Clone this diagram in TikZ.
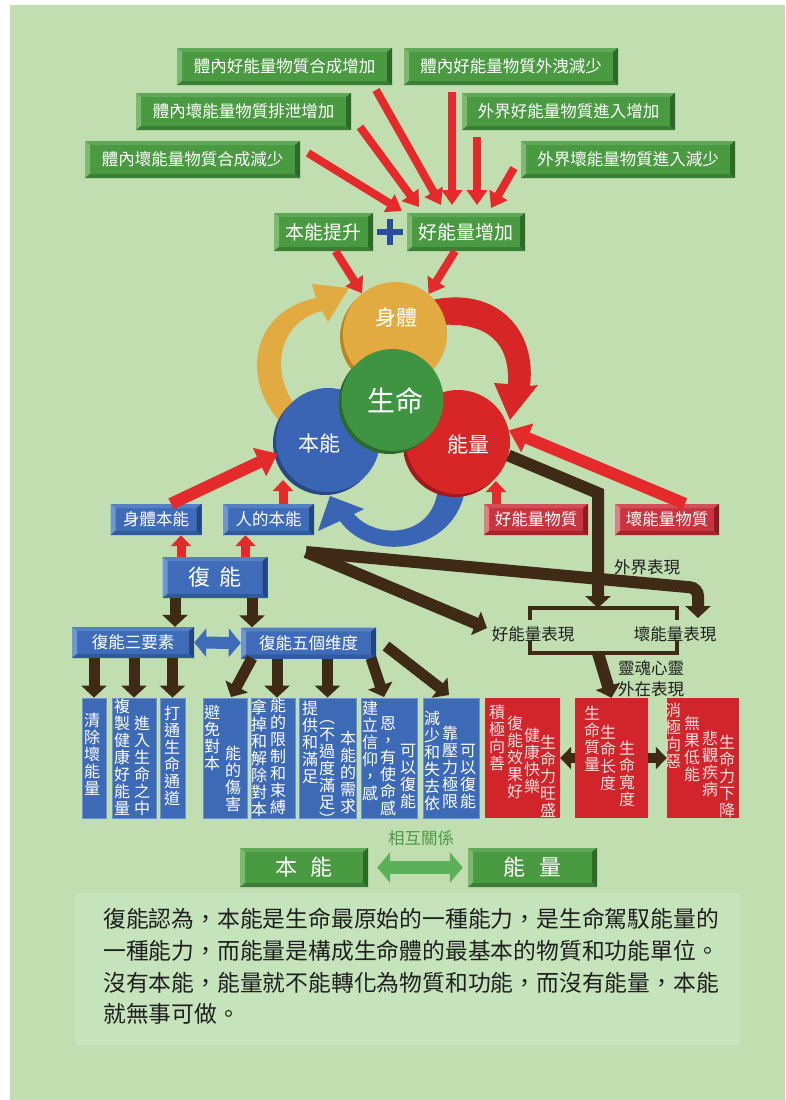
\documentclass[tikz,border=0pt]{standalone}
\usepackage{fontspec}
\setmainfont{Noto Sans CJK TC}
\usetikzlibrary{arrows.meta,shadows}
\definecolor{bg}{HTML}{C0DEB0}
\definecolor{boxbg}{HTML}{C6E4BC}
\definecolor{gB}{HTML}{4A9A42}\definecolor{gT}{HTML}{5EA955}\definecolor{gL}{HTML}{7DBA6F}\definecolor{gR}{HTML}{2D6A28}\definecolor{gD}{HTML}{3B7E35}
\definecolor{bB}{HTML}{3E6CB9}\definecolor{bT}{HTML}{5580C4}\definecolor{bL}{HTML}{7096D2}\definecolor{bR}{HTML}{24467F}\definecolor{bD}{HTML}{2F5A9C}
\definecolor{rB}{HTML}{C9343F}\definecolor{rT}{HTML}{D24E58}\definecolor{rL}{HTML}{E07C84}\definecolor{rR}{HTML}{8C1B23}\definecolor{rD}{HTML}{A3242D}
\definecolor{arred}{HTML}{E52A2C}
\definecolor{brn}{HTML}{3E2A15}
\definecolor{corange}{HTML}{E2AB42}\definecolor{corangeS}{HTML}{B98526}
\definecolor{cgreen}{HTML}{3F9442}\definecolor{cgreenS}{HTML}{2A6A2D}
\definecolor{cblue}{HTML}{3A64B4}\definecolor{cblueS}{HTML}{284882}
\definecolor{cred}{HTML}{D82526}\definecolor{credS}{HTML}{A01A1B}
\definecolor{colblue}{HTML}{3D6AB6}\definecolor{colblueL}{HTML}{6D93CF}
\definecolor{colred}{HTML}{D1242B}
\definecolor{redtext}{HTML}{F8DEDE}
\definecolor{plusblue}{HTML}{2C4C9E}
\definecolor{dgreen}{HTML}{5DB05A}
\definecolor{labgreen}{HTML}{4A9C47}
\definecolor{txt}{HTML}{1F1F1F}
\newcommand\fsz[1]{\fontsize{#1}{#1}\selectfont}
\makeatletter
\newcommand\vstack[1]{\vbox{\offinterlineskip\@tfor\vs@c:=#1\do{\hbox to 17pt{\hss\vs@c\hss\vrule height 13.6pt depth 3.4pt width 0pt}}}}
\makeatother
\tikzset{
  bevel/.style n args={5}{fill=#1, path picture={
    \fill[#2] (path picture bounding box.north west) -- (path picture bounding box.north east) -- ([shift={(-5pt,-4pt)}]path picture bounding box.north east) -- ([shift={(5pt,-4pt)}]path picture bounding box.north west) -- cycle;
    \fill[#3] (path picture bounding box.north west) -- (path picture bounding box.south west) -- ([shift={(5pt,4pt)}]path picture bounding box.south west) -- ([shift={(5pt,-4pt)}]path picture bounding box.north west) -- cycle;
    \fill[#4] (path picture bounding box.north east) -- (path picture bounding box.south east) -- ([shift={(-5pt,4pt)}]path picture bounding box.south east) -- ([shift={(-5pt,-4pt)}]path picture bounding box.north east) -- cycle;
    \fill[#5] (path picture bounding box.south west) -- (path picture bounding box.south east) -- ([shift={(-5pt,4pt)}]path picture bounding box.south east) -- ([shift={(5pt,4pt)}]path picture bounding box.south west) -- cycle;
  }},
  wh/.style 2 args={minimum width=#1pt, minimum height=#2pt},
  gbox/.style={bevel={gB}{gT}{gL}{gR}{gD}, text=white, inner sep=0pt},
  bbox/.style={bevel={bB}{bT}{bL}{bR}{bD}, text=white, inner sep=0pt},
  rbox/.style={bevel={rB}{rT}{rL}{rR}{rD}, text=white, inner sep=0pt},
  circ/.style={circle, minimum size=104pt, inner sep=0pt},
  ctext/.style={text=white, inner sep=0pt},
  bcol/.style={fill=colblue, draw=colblueL, line width=0.8pt, inner sep=0pt},
  rcol/.style={fill=colred, inner sep=0pt},
  colt/.style={anchor=north, inner sep=0pt, yshift=7.5pt, font=\fsz{16pt}},
  bct/.style={colt, text=white},
  rct/.style={colt, text=redtext},
  tred/.style={draw=arred, line width=8pt, -{Triangle[length=15pt,width=20pt]}},
  bred/.style={draw=arred, line width=12pt, -{Triangle[length=20pt,width=30pt]}},
  sred/.style={draw=arred, line width=9pt, -{Triangle[length=11pt,width=20pt]}},
  brarr/.style={draw=brn, line width=11pt, -{Triangle[length=12pt,width=25pt]}},
  lab/.style={inner sep=0pt, text=txt, font=\fsz{16.5pt}},
  ptext/.style={anchor=west, inner sep=0pt, text=txt, font=\fsz{22.8pt}},
}
\begin{document}
\begin{tikzpicture}[x=1pt,y=-1pt]
\fill[white] (0,0) rectangle (785,1100);
\fill[bg] (10,5) rectangle (785,1100);
\useasboundingbox (0,0) rectangle (785,1100);

% top green boxes
\node[gbox, wh={215}{37}, font=\fsz{16.5pt}] (g1) at (284.5,66.5) {體內好能量物質合成增加};
\node[gbox, wh={214}{37}, font=\fsz{16.5pt}] (g2) at (511,66.5) {體內好能量物質外洩減少};
\node[gbox, wh={215}{37}, font=\fsz{16.5pt}] (g3) at (243.5,111.5) {體內壞能量物質排泄增加};
\node[gbox, wh={213}{37}, font=\fsz{16.5pt}] (g4) at (568.5,111.5) {外界好能量物質進入增加};
\node[gbox, wh={215}{37}, font=\fsz{16.5pt}] (g5) at (192.5,159.5) {體內壞能量物質合成減少};
\node[gbox, wh={214}{37}, font=\fsz{16.5pt}] (g6) at (628,159.5) {外界壞能量物質進入減少};

\node[gbox, wh={99}{38}, font=\fsz{19pt}] (bt) at (323.5,232) {本能提升};
\node[gbox, wh={118}{38}, font=\fsz{19pt}] (hz) at (466,232) {好能量增加};
\draw[plusblue, line width=6.5pt] (377,232) -- (403,232) (390,219) -- (390,245);

% arrows into 好能量增加
\coordinate (sa) at (308,153); \coordinate (ea) at (402,211);
\coordinate (sb) at (360,127); \coordinate (eb) at (419,207);
\coordinate (sc) at (376,90);  \coordinate (ec) at (441,205);
\coordinate (sd) at (452,92);  \coordinate (ed) at (452,205);
\coordinate (se) at (477,137); \coordinate (ee) at (477,205);
\coordinate (sf) at (514,168); \coordinate (ef) at (491,208);
\draw[tred] (sa) -- (ea);
\draw[tred] (sb) -- (eb);
\draw[tred] (sc) -- (ec);
\draw[tred] (sd) -- (ed);
\draw[tred] (se) -- (ee);
\draw[tred] (sf) -- (ef);

% curved arrows (under circles)
\fill[corange] (286,428) .. controls (240,385) and (248,312) .. (316,298) -- (312,284) -- (349,288) -- (328,322) -- (322,311) .. controls (276,322) and (268,378) .. (302,414) -- cycle;
\fill[cred] (432,300) .. controls (497,286) and (537,330) .. (530,386) -- (538,385) -- (510,420) -- (494,383) -- (508,384) .. controls (510,343) and (488,322) .. (440,325) -- cycle;
\fill[cblue] (466,480) .. controls (463,552) and (372,566) .. (340,521) -- (318,531) -- (330,496) -- (364,509) -- (354,514) .. controls (378,542) and (440,537) .. (438,480) -- cycle;

% brown connector from 能量
\coordinate (bk) at (598,493);
\coordinate (brt) at (598,608);
\coordinate (brb) at (598,653);

% circles
\node[circ, fill=corange, drop shadow={shadow xshift=-3pt, shadow yshift=-3pt, fill=corangeS, opacity=1}] (body) at (395,334) {};
\node[circ, fill=cblue, drop shadow={shadow xshift=-3pt, shadow yshift=-3pt, fill=cblueS, opacity=1}] (bn) at (328,440) {};
\node[circ, fill=cred, drop shadow={shadow xshift=-3pt, shadow yshift=-3pt, fill=credS, opacity=1}] (nl) at (458,442) {};
\draw[brarr, -{Triangle[length=12pt,width=25pt]}, line width=12pt] (nl.-15) -- (bk) -- (brt);
\node[circ, minimum size=102pt, fill=cgreen, drop shadow={shadow xshift=-3pt, shadow yshift=-3pt, fill=cgreenS, opacity=1}] (life) at (392.5,400) {};
\node[ctext, font=\fsz{21pt}] (bodyt) at (396,318) {身體};
\node[ctext, font=\fsz{28pt}] (lifet) at (395,401) {生命};
\node[ctext, font=\fsz{21pt}] (bnt) at (319,444) {本能};
\node[ctext, font=\fsz{21pt}] (nlt) at (468,445) {能量};

\draw[tred] ([xshift=12pt]bt.south) -- (body.129);
\draw[tred] ([xshift=-11pt]hz.south) -- (body.50);

% second row boxes
\node[bbox, wh={91}{31}, font=\fsz{16.5pt}] (sbn) at (156,519.5) {身體本能};
\node[bbox, wh={91}{31}, font=\fsz{16.5pt}] (rbn) at (268.5,519.5) {人的本能};
\node[rbox, wh={104}{31}, font=\fsz{16.5pt}] (hwz) at (536,519.5) {好能量物質};
\node[rbox, wh={104}{31}, font=\fsz{16.5pt}] (bwz) at (667,519.5) {壞能量物質};

\draw[bred] ([xshift=15pt]sbn.north) -- (bn.195);
\coordinate (rbnt) at (283,480);
\draw[sred] (sbn.north -| rbnt) ++(0,0) (rbn.north -| rbnt) -- (rbnt);
\coordinate (hwzt) at (496,481);
\draw[sred] (hwz.north -| hwzt) -- (hwzt);
\draw[bred] ([xshift=18pt]bwz.north) -- (nl.13);

% 復能
\node[bbox, wh={105}{41}, font=\fsz{22pt}] (fn) at (215,577.5) {復\hspace{0.4em}能};
\draw[sred] ([xshift=-34pt]fn.north) -- ([xshift=-34pt]fn.north |- sbn.south);
\draw[sred] ([xshift=30.5pt]fn.north) -- ([xshift=30.5pt]fn.north |- rbn.south);

\node[bbox, wh={122}{31}, font=\fsz{16.5pt}] (sy) at (133,642.5) {復能三要素};
\node[bbox, wh={135}{31}, font=\fsz{16.5pt}] (wd) at (308.5,643) {復能五個维度};
\draw[brarr] ([xshift=-40pt]fn.south) -- ([xshift=-40pt]fn.south |- sy.north);
\draw[brarr] ([xshift=37pt]fn.south) -- ([xshift=37pt]fn.south |- wd.north);
\draw[draw=bB, line width=12pt, {Triangle[length=12pt,width=28pt]}-{Triangle[length=12pt,width=28pt]}] (sy.east) -- (wd.west);

% long brown arrows
\coordinate (wx) at (306,552);
\node[lab] (hbx) at (533,634) {好能量表現};
\node[lab] (bbx) at (675,634) {壞能量表現};
\coordinate (hbt) at (487,628);
\coordinate (bbk) at (698,588);
\coordinate (bbt) at (698,618);
\draw[brarr, line width=12pt] (wx) -- (hbt);
\draw[brarr, line width=12pt, rounded corners=8pt] (wx) -- (bbk) -- (bbt);
\node[lab] (wjbx) at (647,567) {外界表現};
\draw[brn, line width=4pt] (530,620) -- (530,608) -- (677,608) -- (677,620);
\draw[brn, line width=4pt] (530,641) -- (530,653) -- (677,653) -- (677,641);
\node[lab] (lh1) at (651,668) {靈魂心靈};
\node[lab] (lh2) at (651,689) {外在表現};

% columns
\node[bcol, wh={24}{120}] (c1) at (94,758) {};
\node[bcol, wh={44}{120}] (c2) at (134,758) {};
\node[bcol, wh={25}{120}] (c3) at (172.5,758) {};
\node[bcol, wh={44}{120}] (c4) at (225,758) {};
\node[bcol, wh={44}{120}] (c5) at (273,758) {};
\node[bcol, wh={57}{120}] (c6) at (327.5,758) {};
\node[bcol, wh={56}{120}] (c7) at (389,758) {};
\node[bcol, wh={56}{120}] (c8) at (451,758) {};
\node[rcol, wh={75}{120}] (r1) at (522.5,758) {};
\node[rcol, wh={73}{120}] (r2) at (611.5,758) {};
\node[rcol, wh={72}{120}] (r3) at (703,758) {};

\draw[brarr] (sy.south -| c1) -- (c1.north);
\draw[brarr] (sy.south -| c2) -- (c2.north);
\draw[brarr] (sy.south -| c3) -- (c3.north);
\coordinate (w4) at (252,658); \coordinate (w4e) at (231,697);
\draw[brarr] (w4) -- (w4e);
\draw[brarr] (wd.south -| 277,0) -- (c5.north -| 277,0);
\draw[brarr] (wd.south -| c6) -- (c6.north);
\coordinate (w7) at (371,658); \coordinate (w7e) at (384,697);
\draw[brarr] (w7) -- (w7e);
\coordinate (w8) at (386,646); \coordinate (w8e) at (449,695);
\draw[brarr] (w8) -- (w8e);

\draw[brarr, line width=12pt] (brb) -- (r2.north);
\draw[brarr, line width=10pt, -{Triangle[length=11pt,width=22pt]}] (r2.west) -- (r1.east);
\draw[brarr, line width=10pt, -{Triangle[length=11pt,width=22pt]}] (r2.east) -- (r3.west);

% column texts
\node[bct] (t1) at (92,720) {\vstack{清除壞能量}};
\node[bct] (t2a) at (122,706) {\vstack{複製健康好能量}};
\node[bct] (t2b) at (142,723) {\vstack{進入生命之中}};
\node[bct] (t3) at (172,713) {\vstack{打通生命通道}};
\node[bct] (t4a) at (212,712) {\vstack{避免對本}};
\node[bct] (t4b) at (233,753) {\vstack{能的傷害}};
\node[bct] (t5a) at (259,707) {\vstack{拿掉和解除對本}};
\node[bct] (t5b) at (278,705) {\vstack{能的限制和束縛}};
\node[bct] (t6a) at (310,708) {\vstack{提供和滿足}};
\node[bct] (t6b) at (327,717) {\vstack{︵不過度滿足︶}};
\node[bct] (t6c) at (348,738) {\vstack{本能的需求}};
\node[bct] (t7a) at (370,708) {\vstack{建立信仰，感}};
\node[bct] (t7b) at (388,723) {\vstack{恩，有使命感}};
\node[bct] (t7c) at (408,750) {\vstack{可以復能}};
\node[bct] (t8a) at (432,718) {\vstack{減少和失去依}};
\node[bct] (t8b) at (450,733) {\vstack{靠壓力極限}};
\node[bct] (t8c) at (468,750) {\vstack{可以復能}};
\node[rct] (s1a) at (497,712) {\vstack{積極向善}};
\node[rct] (s1b) at (515,723) {\vstack{復能效果好}};
\node[rct] (s1c) at (532,735) {\vstack{健康快樂}};
\node[rct] (s1d) at (548,742) {\vstack{生命力旺盛}};
\node[rct] (s2a) at (592,713) {\vstack{生命質量}};
\node[rct] (s2b) at (608,732) {\vstack{生命长度}};
\node[rct] (s2c) at (627,748) {\vstack{生命寬度}};
\node[rct] (s3a) at (673,710) {\vstack{消極向惡}};
\node[rct] (s3b) at (692,723) {\vstack{無果低能}};
\node[rct] (s3c) at (710,738) {\vstack{悲觀疾病}};
\node[rct] (s3d) at (727,742) {\vstack{生命力下降}};

% bottom pair
\node[gbox, wh={128}{39}, font=\fsz{22pt}] (bb) at (304,867.5) {本\hspace{0.6em}能};
\node[gbox, wh={129}{39}, font=\fsz{22pt}] (bl) at (532.5,867.5) {能\hspace{0.6em}量};
\draw[draw=dgreen, line width=13pt, {Triangle[length=13pt,width=30pt]}-{Triangle[length=13pt,width=30pt]}] ([xshift=9pt]bb.east) -- ([xshift=-5pt]bl.west);
\node[inner sep=0pt, text=labgreen, font=\fsz{16.5pt}] (hx) at (421,838) {相互關係};

% paragraph
\node[fill=boxbg, wh={665}{152}, inner sep=0pt] (para) at (407.5,969) {};
\node[ptext] (l1) at (103,919) {復能認為，本能是生命最原始的一種能力，是生命駕馭能量的};
\node[ptext] (l2) at (103,951) {一種能力，而能量是構成生命體的最基本的物質和功能單位。};
\node[ptext] (l3) at (103,983) {沒有本能，能量就不能轉化為物質和功能，而沒有能量，本能};
\node[ptext] (l4) at (103,1014) {就無事可做。};
\end{tikzpicture}
\end{document}
